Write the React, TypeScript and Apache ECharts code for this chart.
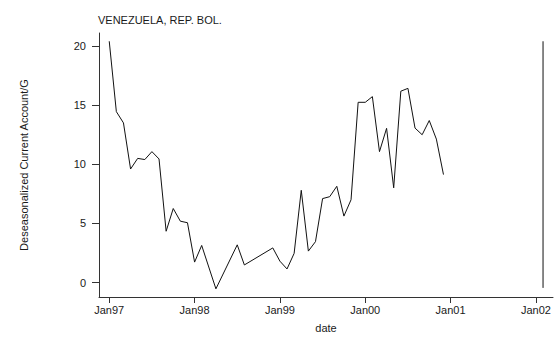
import React, { useEffect, useRef } from "react";
import * as echarts from "echarts";

const months: string[] = [
  "1997-01","1997-02","1997-03","1997-04","1997-05","1997-06","1997-07","1997-08","1997-09","1997-10","1997-11","1997-12",
  "1998-01","1998-02","1998-04","1998-07","1998-08","1998-12",
  "1999-01","1999-02","1999-03","1999-04","1999-05","1999-06","1999-07","1999-08","1999-09","1999-10","1999-11","1999-12",
  "2000-01","2000-02","2000-03","2000-04","2000-05","2000-06","2000-07","2000-08","2000-09","2000-10","2000-11","2000-12",
];
const values: number[] = [
  20.4, 14.45, 13.5, 9.6, 10.5, 10.4, 11.07, 10.45, 4.34, 6.26, 5.19, 5.06,
  1.73, 3.14, -0.53, 3.19, 1.49, 2.93,
  1.81, 1.15, 2.47, 7.8, 2.66, 3.46, 7.1, 7.26, 8.14, 5.62, 7.0, 15.24,
  15.24, 15.72, 11.07, 13.04, 8.01, 16.18, 16.42, 13.06, 12.5, 13.7, 12.13, 9.13,
];
const markerMonth = "2002-02";
const markerRange: number[] = [20.4, -0.45];
const yTicks: number[] = [0, 5, 10, 15, 20];
const xTickYears: number[] = [1997, 1998, 1999, 2000, 2001, 2002];

const toYear = (m: string) => {
  const [y, mo] = m.split("-").map(Number);
  return y + (mo - 1) / 12;
};

export default function App() {
  const ref = useRef<HTMLDivElement>(null);
  useEffect(() => {
    if (!ref.current) return;
    const chart = echarts.init(ref.current, undefined, { renderer: "svg", width: 560, height: 338 });
    const font = "Liberation Sans, Arial, Helvetica, sans-serif";
    const lineData = months.map((m, i) => [toYear(m), values[i]]);
    const mx = toYear(markerMonth);
    chart.setOption({
      animation: false,
      title: {
        text: "VENEZUELA, REP. BOL.",
        left: 98,
        top: 14,
        padding: 0,
        textStyle: { fontSize: 11, fontWeight: "normal", color: "#1a1a1a", fontFamily: font },
      },
      grid: { left: 99, right: 7, top: 33, bottom: 25, containLabel: false },
      xAxis: {
        type: "value",
        min: 1996.88,
        max: 2002.2,
        name: "date",
        nameLocation: "middle",
        nameGap: 25,
        nameTextStyle: { fontSize: 11, color: "#1a1a1a", fontFamily: font },
        axisLine: { show: true, onZero: false, lineStyle: { color: "#333", width: 1 } },
        axisTick: { show: true, length: 6, customValues: xTickYears, lineStyle: { color: "#333" } },
        axisLabel: {
          customValues: xTickYears,
          fontSize: 11,
          color: "#1a1a1a",
          fontFamily: font,
          margin: 7,
          formatter: (v: number) => "Jan" + String(Math.round(v)).slice(2),
        },
        splitLine: { show: false },
      },
      yAxis: {
        type: "value",
        min: -1.22,
        max: 21.1,
        name: "Deseasonalized Current Account/G",
        nameLocation: "middle",
        nameGap: 70,
        nameTextStyle: { fontSize: 11, color: "#1a1a1a", fontFamily: font },
        axisLine: { show: true, onZero: false, lineStyle: { color: "#333", width: 1 } },
        axisTick: { show: true, length: 7, customValues: yTicks, lineStyle: { color: "#333" } },
        axisLabel: {
          customValues: yTicks,
          fontSize: 11,
          color: "#1a1a1a",
          fontFamily: font,
          margin: 13,
        },
        splitLine: { show: false },
      },
      series: [
        {
          type: "line",
          data: lineData,
          showSymbol: false,
          symbol: "none",
          lineStyle: { color: "#111", width: 1 },
        },
        {
          type: "line",
          data: markerRange.map((v) => [mx, v]),
          showSymbol: false,
          symbol: "none",
          lineStyle: { color: "#111", width: 1 },
        },
      ],
    });
    return () => chart.dispose();
  }, []);
  return (
    <div
      ref={ref}
      style={{ position: "absolute", left: 0, top: 0, width: 560, height: 338 }}
    />
  );
}
